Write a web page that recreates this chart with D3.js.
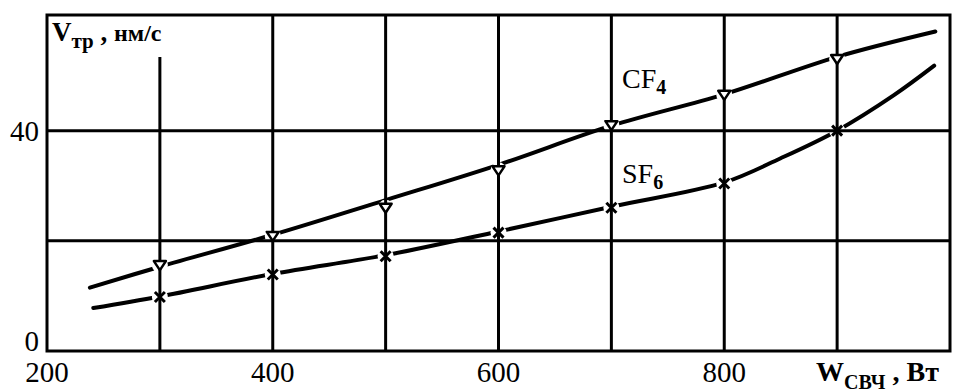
<!DOCTYPE html>
<html>
<head>
<meta charset="utf-8">
<script src="https://cdn.jsdelivr.net/npm/d3@7"></script>
<style>
	body { margin : 0; background : white; }
</style>
</head>
<body>
<svg id="mysvg" width="955" height="392"></svg>
<script>
// x ticks (W, Вт) and y ticks (V, нм/с)
var xTicks = [200 , 400 , 600 , 800];
var xGrid = [300 , 400 , 500 , 600 , 700 , 800 , 900];
var yTicks = [0 , 40];
var yGrid = [20 , 40];

// measured points (markers)
var pointW = [300 , 400 , 500 , 600 , 700 , 800 , 900];
var cf4Points = [15.6 , 20.9 , 26.0 , 32.8 , 41.0 , 46.5 , 53.0];
var sf6Points = [9.8 , 13.9 , 17.2 , 21.5 , 26.0 , 30.4 , 40.0];

// drawn curves
var cf4CurveW = [238 , 300 , 400 , 500 , 600 , 700 , 800 , 900 , 987];
var cf4CurveV = [11.5 , 15.3 , 21.1 , 27.4 , 33.8 , 40.9 , 46.6 , 53.4 , 58.0];
var sf6CurveW = [241 , 300 , 400 , 500 , 600 , 700 , 800 , 850 , 900 , 950 , 986];
var sf6CurveV = [7.8 , 9.9 , 14.0 , 17.4 , 21.7 , 26.2 , 30.6 , 35.0 , 40.0 , 46.4 , 51.8];

var FONT = "'Liberation Serif', 'Times New Roman', 'DejaVu Serif', serif";

var svg = d3.select ("#mysvg");

var x = d3.scaleLinear ().domain ([200 , 1000]).range ([47 , 950]);
var y = d3.scaleLinear ().domain ([0 , 61]).range ([351 , 15]);

function zipped (a , b) {
	var out = [];
	for (var i = 0 ; i < a.length ; ++i) out.push ([a[i] , b[i]]);
	return out;
}

var line = d3.line ()
	.x (function (d) { return x (d[0]); })
	.y (function (d) { return y (d[1]); })
	.curve (d3.curveCatmullRom);

// curves first, grid is drawn over them
svg.append ("path")
	.attr ("d" , line (zipped (cf4CurveW , cf4CurveV)))
	.attr ("fill" , "none")
	.attr ("stroke" , "black")
	.attr ("stroke-width" , 4)
	.attr ("stroke-linecap" , "round");

svg.append ("path")
	.attr ("d" , line (zipped (sf6CurveW , sf6CurveV)))
	.attr ("fill" , "none")
	.attr ("stroke" , "black")
	.attr ("stroke-width" , 4)
	.attr ("stroke-linecap" , "round");

// small breaks of the curves around the markers
var all = zipped (pointW , cf4Points).concat (zipped (pointW , sf6Points));
svg.append ("g").selectAll ("circle")
	.data (all)
	.enter ()
	.append ("circle")
	.attr ("cx" , function (d) { return x (d[0]); })
	.attr ("cy" , function (d) { return y (d[1]); })
	.attr ("r" , 8)
	.attr ("fill" , "white");

// grid
svg.append ("g").selectAll ("line")
	.data (xGrid)
	.enter ()
	.append ("line")
	.attr ("x1" , function (d) { return x (d); })
	.attr ("x2" , function (d) { return x (d); })
	.attr ("y1" , function (d) { return d == 300 ? 57 : y (61); })
	.attr ("y2" , y (0))
	.attr ("stroke" , "black")
	.attr ("stroke-width" , 3);

svg.append ("g").selectAll ("line")
	.data (yGrid)
	.enter ()
	.append ("line")
	.attr ("x1" , x (200))
	.attr ("x2" , x (1000))
	.attr ("y1" , function (d) { return y (d); })
	.attr ("y2" , function (d) { return y (d); })
	.attr ("stroke" , "black")
	.attr ("stroke-width" , 3);

svg.append ("rect")
	.attr ("x" , x (200))
	.attr ("y" , y (61))
	.attr ("width" , x (1000) - x (200))
	.attr ("height" , y (0) - y (61))
	.attr ("fill" , "none")
	.attr ("stroke" , "black")
	.attr ("stroke-width" , 3);

// markers
svg.append ("g").selectAll ("path")
	.data (zipped (pointW , cf4Points))
	.enter ()
	.append ("path")
	.attr ("transform" , function (d) { return "translate(" + x (d[0]) + "," + y (d[1]) + ")"; })
	.attr ("d" , "M-6,-4L6,-4L0,5Z")
	.attr ("fill" , "white")
	.attr ("stroke" , "black")
	.attr ("stroke-width" , 2.5)
	.attr ("stroke-linejoin" , "round");

svg.append ("g").selectAll ("path")
	.data (zipped (pointW , sf6Points))
	.enter ()
	.append ("path")
	.attr ("transform" , function (d) { return "translate(" + x (d[0]) + "," + y (d[1]) + ")"; })
	.attr ("d" , "M-5,-5L5,5M5,-5L-5,5")
	.attr ("fill" , "none")
	.attr ("stroke" , "black")
	.attr ("stroke-width" , 3);

// tick labels
svg.append ("g").selectAll ("text")
	.data (xTicks)
	.enter ()
	.append ("text")
	.attr ("font-family" , FONT)
	.attr ("x" , function (d) { return x (d); })
	.attr ("y" , 382)
	.attr ("text-anchor" , "middle")
	.attr ("font-size" , 29)
	.text (function (d) { return d; });

svg.append ("g").selectAll ("text")
	.data (yTicks)
	.enter ()
	.append ("text")
	.attr ("font-family" , FONT)
	.attr ("x" , 39)
	.attr ("y" , function (d) { return d == 0 ? 351 : y (d) + 10; })
	.attr ("text-anchor" , "end")
	.attr ("font-size" , 29)
	.text (function (d) { return d; });

// axis titles
var vt = svg.append ("text")
	.attr ("font-family" , FONT)
	.attr ("x" , 52)
	.attr ("y" , 41)
	.attr ("font-weight" , "bold")
	.attr ("font-size" , 27);
vt.append ("tspan").text ("V");
vt.append ("tspan").attr ("font-size" , 21).attr ("dy" , 7).text ("тр");
vt.append ("tspan").attr ("dy" , -7).text (" , ");
vt.append ("tspan").attr ("font-size" , 24).text ("нм/с");

var wt = svg.append ("text")
	.attr ("font-family" , FONT)
	.attr ("x" , 816)
	.attr ("y" , 381)
	.attr ("font-weight" , "bold")
	.attr ("font-size" , 28);
wt.append ("tspan").text ("W");
wt.append ("tspan").attr ("font-size" , 20).attr ("dy" , 8).text ("СВЧ");
wt.append ("tspan").attr ("dy" , -8).text (" , Вт");

// series labels
var c = svg.append ("text").attr ("font-family" , FONT).attr ("x" , 622).attr ("y" , 88).attr ("font-size" , 28);
c.append ("tspan").text ("CF");
c.append ("tspan").attr ("font-size" , 20).attr ("font-weight" , "bold").attr ("dy" , 6).text ("4");

var s = svg.append ("text").attr ("font-family" , FONT).attr ("x" , 622).attr ("y" , 183).attr ("font-size" , 28);
s.append ("tspan").text ("SF");
s.append ("tspan").attr ("font-size" , 20).attr ("font-weight" , "bold").attr ("dy" , 6).text ("6");
</script>
</body>
</html>
